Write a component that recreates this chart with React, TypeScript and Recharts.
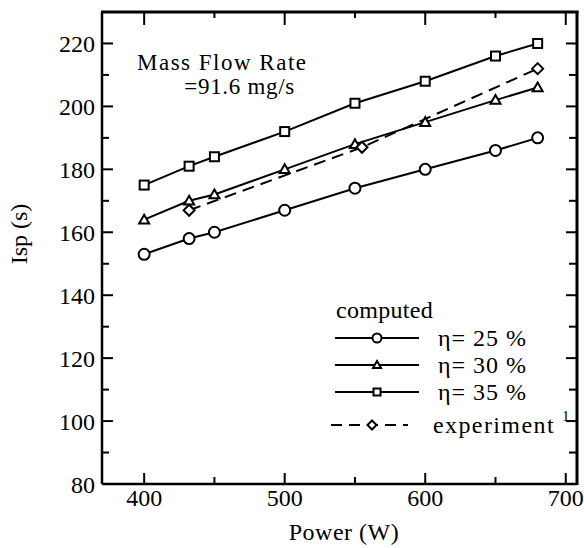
import { FC } from 'react';
import { LineChart, Line, XAxis, YAxis, Customized } from 'recharts';

// values
const power = [400, 432, 450, 500, 550, 600, 650, 680];
const isp25 = [153, 158, 160, 167, 174, 180, 186, 190];
const isp30 = [164, 170, 172, 180, 188, 195, 202, 206];
const isp35 = [175, 181, 184, 192, 201, 208, 216, 220];
const expPower = [432, 555, 680];
const expIsp = [167, 187, 212];

const xDomain = [370, 708];
const yDomain = [80, 230];
const xTicks = [400, 450, 500, 550, 600, 650, 700];
const xLabels = [400, 500, 600, 700];
const yTicks = [80, 90, 100, 110, 120, 130, 140, 150, 160, 170, 180, 190, 200, 210, 220];
const yLabels = [80, 100, 120, 140, 160, 180, 200, 220];

const legendItems = ['η= 25 %', 'η= 30 %', 'η= 35 %'];

const toRows = (xs: number[], ys: number[]) => xs.map((p, i) => ({ power: p, isp: ys[i] }));
const rows25 = toRows(power, isp25);
const rows30 = toRows(power, isp30);
const rows35 = toRows(power, isp35);
const rowsExp = toRows(expPower, expIsp);

const FONT = "'Liberation Serif', 'Times New Roman', serif";
const txt = { fontFamily: FONT };
const LEFT = 102;
const RIGHT = 577;
const TOP = 12;
const BOTTOM = 484;
const MAJOR = 11;
const MINOR = 7;

const Circle = ({ cx, cy, r = 5.5 }: any) => (
  <circle cx={cx} cy={cy} r={r} fill="#fff" stroke="#000" strokeWidth={2} />
);
const Triangle = ({ cx, cy, s = 5 }: any) => (
  <polygon
    points={`${cx},${cy - s} ${cx - s},${cy + s * 0.75} ${cx + s},${cy + s * 0.75}`}
    fill="#fff"
    stroke="#000"
    strokeWidth={2}
  />
);
const Square = ({ cx, cy, s = 4.5 }: any) => (
  <rect x={cx - s} y={cy - s} width={s * 2} height={s * 2} fill="#fff" stroke="#000" strokeWidth={2} />
);
const Diamond = ({ cx, cy, s = 5.5 }: any) => (
  <polygon
    points={`${cx},${cy - s} ${cx + s},${cy} ${cx},${cy + s} ${cx - s},${cy}`}
    fill="#fff"
    stroke="#000"
    strokeWidth={2}
  />
);

// bottom tick also draws the matching tick on the top frame edge
const XTick = (props: any) => {
  const { x, payload } = props;
  const major = xLabels.includes(payload.value);
  return (
    <g>
      <path d={`M${x},${BOTTOM}V${BOTTOM - (major ? MAJOR : MINOR)}`} stroke="#000" strokeWidth={2} fill="none" />
      <path d={`M${x},${TOP}V${TOP + (major ? MAJOR + 2 : MINOR - 1)}`} stroke="#000" strokeWidth={2} fill="none" />
      {major && (
        <text x={x} y={BOTTOM + 22} textAnchor="middle" fontSize={24} style={txt} fill="#000">
          {payload.value}
        </text>
      )}
    </g>
  );
};

// left tick also draws the matching tick on the right frame edge
const YTick = (props: any) => {
  const { y, payload } = props;
  const major = yLabels.includes(payload.value);
  return (
    <g>
      <path d={`M${LEFT},${y}H${LEFT + (major ? MAJOR : MINOR)}`} stroke="#000" strokeWidth={2} fill="none" />
      <path d={`M${RIGHT},${y}H${RIGHT - (major ? MAJOR : MINOR + 1)}`} stroke="#000" strokeWidth={2} fill="none" />
      {major && (
        <text x={95} y={y + 8.5} textAnchor="end" fontSize={24} style={txt} fill="#000">
          {payload.value}
        </text>
      )}
    </g>
  );
};

// top and right edges of the box, drawn as plain lines
const Frame: FC = () => (
  <g>
    <line x1={LEFT - 1} x2={RIGHT + 1.5} y1={TOP} y2={TOP} stroke="#000" strokeWidth={3} />
    <line x1={RIGHT} x2={RIGHT} y1={TOP - 1} y2={BOTTOM + 1} stroke="#000" strokeWidth={3} />
  </g>
);

const Annotations: FC = () => {
  const rowY = [338, 365, 392];
  const markers = [Circle, Triangle, Square];
  return (
    <g>
      <text x={137} y={70} fontSize={23} letterSpacing={1.5} style={txt} fill="#000">Mass Flow Rate</text>
      <text x={295} y={94} fontSize={23} letterSpacing={0.7} style={txt} fill="#000" textAnchor="end">=91.6 mg/s</text>

      <text x={336} y={318} fontSize={24} letterSpacing={0.3} style={txt} fill="#000">computed</text>
      {legendItems.map((label, i) => {
        const M = markers[i];
        return (
          <g key={label}>
            <line x1={335} x2={419} y1={rowY[i]} y2={rowY[i]} stroke="#000" strokeWidth={2} />
            <M cx={377} cy={rowY[i]} r={4.5} s={i === 2 ? 3.5 : 4} />
            <text x={438} y={rowY[i] + 8} fontSize={24} letterSpacing={1} style={txt} fill="#000">{label}</text>
          </g>
        );
      })}
      <line x1={331} x2={408} y1={425} y2={425} stroke="#000" strokeWidth={2} strokeDasharray="11 7" />
      <Diamond cx={372} cy={425} s={4.5} />
      <text x={433} y={433} fontSize={24} letterSpacing={1.4} style={txt} fill="#000">experiment</text>
      <text x={562} y={421} fontSize={15} style={txt} fill="#000">1</text>

      <text x={344} y={540} fontSize={24} letterSpacing={0.5} style={txt} fill="#000" textAnchor="middle">Power (W)</text>
      <text x={0} y={0} fontSize={24} style={txt} fill="#000" textAnchor="middle" transform="translate(27, 234) rotate(-90)">
        Isp (s)
      </text>
    </g>
  );
};

const App: FC = () => {
  return (
    <div style={{ position: 'absolute', left: 0, top: 0 }}>
      <LineChart width={584} height={548} margin={{ top: TOP, right: 584 - RIGHT, bottom: 0, left: 0 }}>
        <XAxis
          dataKey="power"
          type="number"
          domain={xDomain}
          ticks={xTicks}
          interval={0}
          height={548 - BOTTOM}
          tickSize={0}
          tickMargin={0}
          tickLine={false}
          axisLine={{ stroke: '#000', strokeWidth: 2.5 }}
          tick={XTick}
        />
        <YAxis
          type="number"
          domain={yDomain}
          ticks={yTicks}
          interval={0}
          width={LEFT}
          tickSize={0}
          tickMargin={0}
          tickLine={false}
          axisLine={{ stroke: '#000', strokeWidth: 2.5 }}
          tick={YTick}
        />
        <Line data={rows25} dataKey="isp" stroke="#000" strokeWidth={2} isAnimationActive={false}
          dot={(p: any) => <Circle key={p.index} cx={p.cx} cy={p.cy} />} />
        <Line data={rows30} dataKey="isp" stroke="#000" strokeWidth={2} isAnimationActive={false}
          dot={(p: any) => <Triangle key={p.index} cx={p.cx} cy={p.cy} />} />
        <Line data={rows35} dataKey="isp" stroke="#000" strokeWidth={2} isAnimationActive={false}
          dot={(p: any) => <Square key={p.index} cx={p.cx} cy={p.cy} />} />
        <Line data={rowsExp} dataKey="isp" stroke="#000" strokeWidth={2} strokeDasharray="12 7"
          isAnimationActive={false} dot={(p: any) => <Diamond key={p.index} cx={p.cx} cy={p.cy} />} />
        <Customized component={Frame} />
        <Customized component={Annotations} />
      </LineChart>
    </div>
  );
};

export default App;
